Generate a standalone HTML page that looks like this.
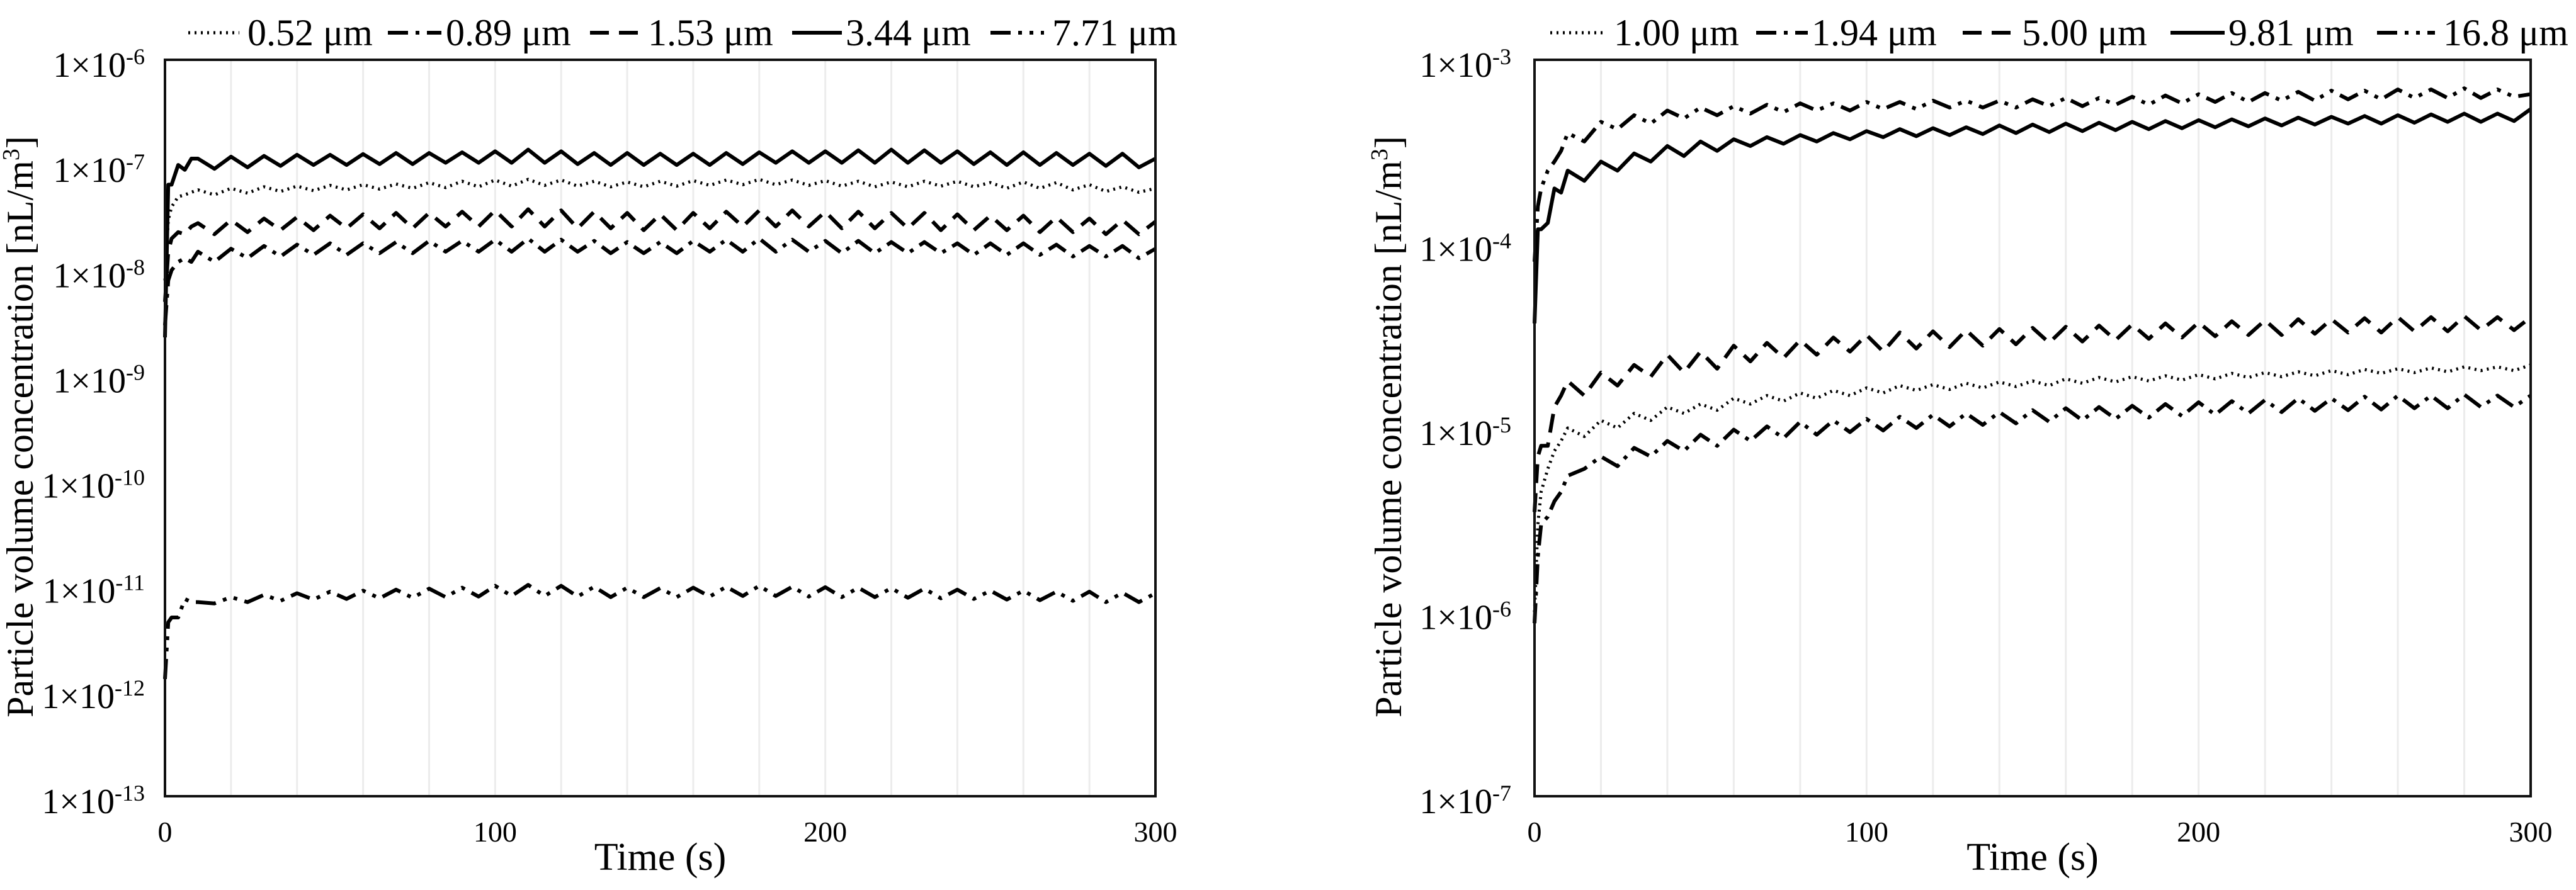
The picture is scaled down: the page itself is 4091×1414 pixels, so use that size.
<!DOCTYPE html>
<html><head><meta charset="utf-8"><style>
html,body{margin:0;padding:0;background:#fff;}
svg{display:block;font-family:"Liberation Serif",serif;}
</style></head><body>
<svg id="chart" width="4091" height="1414" viewBox="0 0 4091 1414" xmlns="http://www.w3.org/2000/svg"></svg>
<script>
// ---- data ----
const times = [0,1,2,4,6,8,10,15,20,25,30,35,40,45,50,55,60,65,70,75,80,85,90,95,100,105,110,115,120,125,130,135,140,145,150,155,160,165,170,175,180,185,190,195,200,205,210,215,220,225,230,235,240,245,250,255,260,265,270,275,280,285,290,295,300];
const xTicks = [0,100,200,300];
const leftYTicks = [-6,-7,-8,-9,-10,-11,-12,-13];
const rightYTicks = [-3,-4,-5,-6,-7];
const leftLabels = ["0.52 μm","0.89 μm","1.53 μm","3.44 μm","7.71 μm"];
const rightLabels = ["1.00 μm","1.94 μm","5.00 μm","9.81 μm","16.8 μm"];

const s052 = [0.8,3.0,4.0,5.0,5.2,5.5, 5.8,5.2,6.0,5.4,6.2,5.6,6.3,5.7,6.4,5.8, 6.5,5.9,6.6,6.0,6.8,6.1,7.0,6.2,7.2,6.3, 7.3,6.4,7.2,6.3,7.0,6.2,6.9,6.2,7.0,6.3, 7.1,6.4,7.2,6.5,7.3,6.5,7.2,6.4,7.1,6.3, 7.0,6.2,6.9,6.2,7.0,6.3,7.0,6.2,6.8,6.0, 6.9,6.0,6.8,5.8,6.5,5.6,6.2,5.5,6.0].map(v=>v*1e-8);
const s089 = [0.3,0.8,1.0,1.2,1.3,1.2, 1.5,1.2,1.6,1.3,1.7,1.35,1.75,1.4,1.8,1.4, 1.8,1.45,1.85,1.45,1.9,1.5,1.9,1.5,1.95,1.5, 2.0,1.5,1.95,1.5,1.9,1.45,1.85,1.45,1.85,1.45, 1.9,1.5,1.95,1.5,2.0,1.5,1.95,1.5,1.9,1.45, 1.9,1.45,1.85,1.45,1.85,1.45,1.8,1.4,1.8,1.4, 1.8,1.4,1.75,1.35,1.7,1.35,1.7,1.3,1.6].map(v=>v*1e-8);
const s153 = [0.5,1.5,2.0,2.3,2.2,2.6, 2.8,2.2,3.0,2.3,3.1,2.4,3.2,2.4,3.3,2.5, 3.4,2.5,3.5,2.5,3.5,2.6,3.6,2.6,3.7,2.6, 3.8,2.6,3.7,2.5,3.6,2.5,3.5,2.4,3.4,2.4, 3.5,2.5,3.6,2.6,3.7,2.6,3.7,2.6,3.6,2.5, 3.6,2.5,3.5,2.5,3.5,2.4,3.4,2.4,3.3,2.4, 3.3,2.3,3.2,2.3,3.1,2.2,3.0,2.2,2.9].map(v=>v*1e-8);
const s344 = [0.023,0.65,0.65,1.0,0.9,1.15, 1.15,0.92,1.2,0.95,1.22,0.98,1.25,1.0,1.25,1.0, 1.27,1.02,1.3,1.02,1.3,1.05,1.32,1.05,1.35,1.05, 1.4,1.05,1.35,1.02,1.3,1.0,1.3,1.0,1.28,1.0, 1.28,1.0,1.3,1.02,1.32,1.05,1.35,1.05,1.35,1.05, 1.38,1.05,1.4,1.05,1.38,1.05,1.35,1.02,1.32,1.0, 1.32,1.0,1.3,1.0,1.28,0.98,1.28,0.95,1.15].map(v=>v*1e-7);
const s771 = [1.3,4.5,5.0,5.0,7.5,7.0, 7.0,6.8,7.8,7.0,8.2,7.2,8.5,7.4,8.8,7.5, 9.0,7.6,9.2,7.7,9.4,7.8,9.6,7.9,10.0,8.0, 10.2,8.0,10.0,7.9,9.8,7.8,9.6,7.8,9.5,7.8, 9.6,7.9,9.8,8.0,10.0,8.0,9.8,7.9,9.7,7.8, 9.6,7.8,9.5,7.7,9.4,7.6,9.2,7.5,9.0,7.4, 9.0,7.3,8.8,7.2,8.8,7.0,8.6,7.0,8.5].map(v=>v*1e-12);

const r100 = [0.1,0.3,0.45,0.6,0.75,0.85, 1.0,0.9,1.1,1.0,1.2,1.1,1.3,1.2,1.35,1.25, 1.45,1.35,1.5,1.4,1.55,1.45,1.6,1.5,1.65,1.55, 1.7,1.6,1.72,1.62,1.75,1.65,1.78,1.68,1.8,1.7, 1.85,1.75,1.88,1.78,1.9,1.8,1.92,1.82,1.95,1.85, 1.98,1.88,2.0,1.9,2.02,1.92,2.05,1.95,2.08,1.98, 2.1,2.0,2.12,2.02,2.15,2.05,2.15,2.05,2.2].map(v=>v*1e-5);
const r194 = [0.087,0.2,0.3,0.33,0.4,0.45, 0.55,0.6,0.7,0.62,0.78,0.7,0.85,0.75,0.92,0.8, 0.98,0.85,1.02,0.88,1.08,0.92,1.1,0.95,1.12,0.97, 1.15,1.0,1.18,1.02,1.2,1.04,1.22,1.06,1.25,1.08, 1.28,1.1,1.3,1.12,1.32,1.14,1.35,1.16,1.38,1.18, 1.4,1.2,1.42,1.22,1.45,1.24,1.45,1.25,1.48,1.26, 1.5,1.28,1.5,1.28,1.52,1.3,1.5,1.3,1.5].map(v=>v*1e-5);
const r500 = [0.35,0.7,0.8,0.8,1.3,1.5, 1.8,1.5,2.0,1.7,2.2,1.9,2.5,2.0,2.6,2.1, 2.8,2.3,2.9,2.4,3.0,2.5,3.1,2.6,3.2,2.6, 3.3,2.7,3.35,2.75,3.4,2.8,3.45,2.85,3.5,2.9, 3.55,2.95,3.6,3.0,3.65,3.05,3.7,3.1,3.75,3.15, 3.8,3.2,3.85,3.2,3.9,3.25,3.9,3.3,3.95,3.3, 4.0,3.35,4.0,3.35,4.05,3.4,4.0,3.4,4.0].map(v=>v*1e-5);
const r981 = [0.37,1.2,1.2,1.3,2.0,1.9, 2.5,2.2,2.8,2.5,3.1,2.8,3.4,3.0,3.6,3.2, 3.7,3.4,3.8,3.5,3.9,3.6,4.0,3.7,4.1,3.8, 4.2,3.85,4.25,3.9,4.3,3.95,4.4,4.0,4.45,4.05, 4.5,4.1,4.55,4.15,4.6,4.2,4.65,4.25,4.7,4.3, 4.75,4.35,4.8,4.4,4.85,4.45,4.9,4.5,4.95,4.5, 5.0,4.55,5.05,4.6,5.1,4.6,5.1,4.65,5.4].map(v=>v*1e-4);
const r168 = [0.8,1.6,2.0,2.5,2.8,3.2, 4.0,3.6,4.6,4.2,5.0,4.5,5.3,4.8,5.5,5.0, 5.6,5.1,5.7,5.2,5.8,5.3,5.8,5.3,5.9,5.4, 5.9,5.4,6.0,5.5,6.0,5.5,6.0,5.5,6.1,5.6, 6.2,5.6,6.2,5.7,6.3,5.7,6.4,5.8,6.5,5.9, 6.6,5.9,6.6,6.0,6.7,6.0,6.8,6.1,6.8,6.1, 6.9,6.2,6.9,6.2,7.0,6.2,6.9,6.3,6.5].map(v=>v*1e-4);

// ---- rendering ----
const NS = "http://www.w3.org/2000/svg";
const svg = document.getElementById("chart");
const styles = [
  {dash:"3,7", w:5},
  {dash:"32,12,6,12", w:6},
  {dash:"30,16", w:6},
  {dash:"", w:6},
  {dash:"32,12,6,12,6,12", w:6}
];
function mk(tag, attrs, parent){
  const e = document.createElementNS(NS, tag);
  for (const k in attrs) e.setAttribute(k, attrs[k]);
  (parent||svg).appendChild(e);
  return e;
}
function drawPanel(p){
  const g = mk("g", {});
  
  
  const X = t => p.x0 + (t/300)*(p.x1-p.x0);
  const Y = v => p.y0 + (p.topExp - Math.log10(v))/(p.topExp - p.botExp)*(p.y1-p.y0);
  for (let t=20; t<300; t+=20){
    const gl = mk("line", {x1:X(t),x2:X(t),y1:p.y0,y2:p.y1,stroke:"#ececec","stroke-width":3}, g);
    
    
  }
  p.series.forEach((s,i)=>{
    const n = Math.min(s.length, times.length);
    let d = "";
    for (let k=0;k<n;k++) d += (k?"L":"M")+X(times[k]).toFixed(1)+","+Y(s[k]).toFixed(1);
    const pa = mk("path", {d:d, fill:"none", stroke:"#000","stroke-width":styles[i].w,"stroke-dasharray":styles[i].dash,"stroke-linejoin":"round"}, g);
    
    
  });
  const fr = mk("rect", {x:p.x0,y:p.y0,width:p.x1-p.x0,height:p.y1-p.y0,fill:"none",stroke:"#111","stroke-width":4}, g);
  
  
  xTicks.forEach(t=>{
    const tx = mk("text", {x:X(t), y:1337, "font-size":46, "text-anchor":"middle"}, g);
    tx.textContent = t;
    
    
  });
  p.yTicks.forEach(e=>{
    const tx = mk("text", {x:p.labelEnd, y:Y(Math.pow(10,e))+27, "font-size":56, "text-anchor":"end"}, g);
    
    
    const a = mk("tspan", {}, tx); a.textContent = "1×10";
    const b = mk("tspan", {dy:-20, "font-size":36}, tx); b.textContent = String(e).replace("-","-");
  });
  const xt = mk("text", {x:(p.x0+p.x1)/2, y:1382, "font-size":62, "text-anchor":"middle"}, g);
  xt.textContent = "Time (s)";
  
  
  const yt = mk("text", {x:0, y:0, "font-size":60, "text-anchor":"middle", transform:`translate(${p.titleX},678) rotate(-90)`}, g);
  
  
  const y1 = mk("tspan", {}, yt); y1.textContent = "Particle volume concentration [nL/m";
  const y2 = mk("tspan", {dy:-22, "font-size":38}, yt); y2.textContent = "3";
  const y3 = mk("tspan", {dy:22}, yt); y3.textContent = "]";
  // legend
  p.legend.forEach((L,i)=>{
    const lg = mk("g", {}, g);
    
    
    mk("line", {x1:L[0],x2:L[1],y1:52,y2:52,stroke:"#000","stroke-width":styles[i].w,"stroke-dasharray":styles[i].dash}, lg);
    const tx = mk("text", {x:L[2], y:72, "font-size":60}, lg);
    tx.textContent = p.labels[i];
  });
}
drawPanel({name:"left-chart", x0:262,x1:1835,y0:95,y1:1265, topExp:-6, botExp:-13, yTicks:leftYTicks, labelEnd:230, titleX:52,
  series:[s052,s089,s153,s344,s771], labels:leftLabels,
  legend:[[299,380,393],[616,701,708],[937,1022,1029],[1258,1337,1343],[1573,1658,1671]]});
drawPanel({name:"right-chart", x0:2437,x1:4019,y0:95,y1:1265, topExp:-3, botExp:-7, yTicks:rightYTicks, labelEnd:2400, titleX:2225,
  series:[r100,r194,r500,r981,r168], labels:rightLabels,
  legend:[[2462,2550,2563],[2789,2871,2877],[3117,3205,3211],[3447,3533,3539],[3775,3867,3880]]});
</script>
</body></html>
